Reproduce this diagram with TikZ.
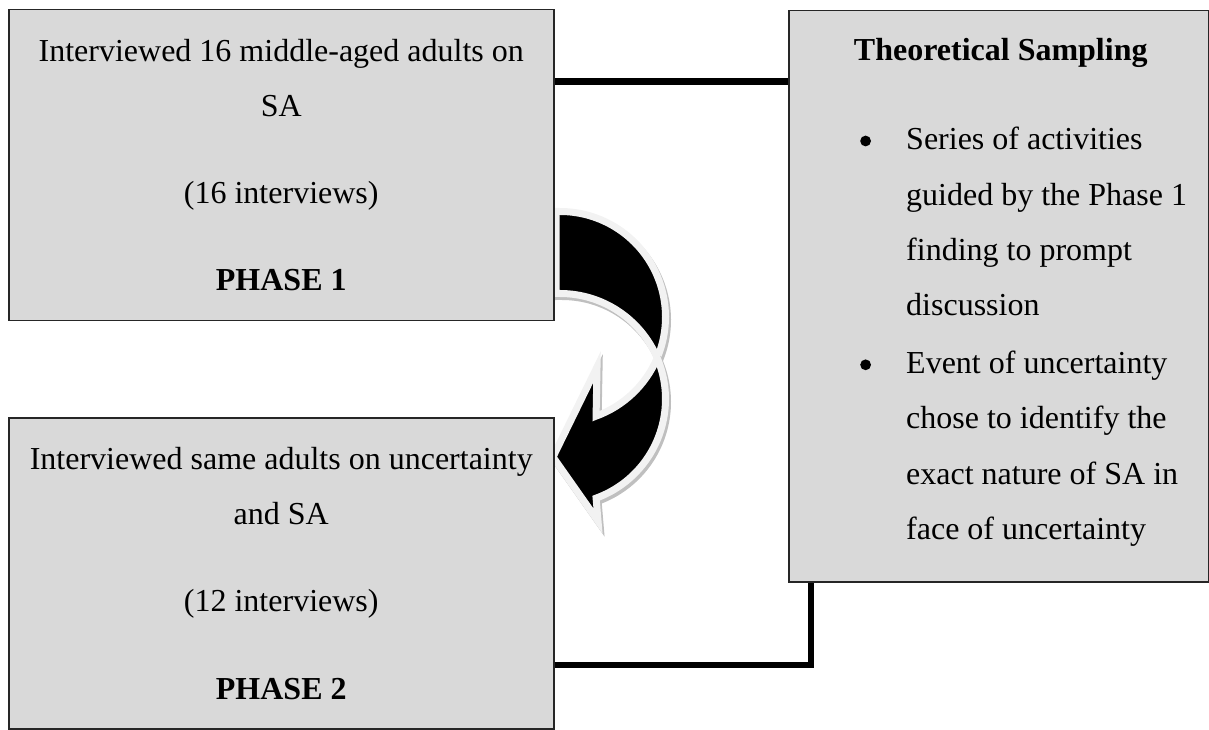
\documentclass[tikz,border=0pt]{standalone}
\usepackage{fontspec}
\setmainfont{Liberation Serif}
\usetikzlibrary{calc}
\definecolor{panelgray}{HTML}{D9D9D9}
\definecolor{arrowrim}{HTML}{F2F2F2}
\definecolor{arrowshade}{HTML}{BFBFBF}
% round list marker, a little larger than the text font's bullet
\newcommand{\listdot}{\tikz[baseline=0pt]\fill (5.4pt,9pt) circle[radius=5.4pt];}
\begin{document}
\begin{tikzpicture}[x=1pt,y=1pt,
  panel/.style={draw=black!85, line width=1.5pt, fill=panelgray, inner sep=0pt,
    align=center, font=\fontsize{32}{55.2}\selectfont},
  phasebox/.style={panel, minimum width=545pt, minimum height=311pt, anchor=north west},
  bodytext/.style={inner sep=0pt, font=\fontsize{32}{55.2}\selectfont},
  link/.style={draw=black, line join=miter, line cap=butt},
  band/.style={fill=black, draw=arrowrim, line width=7pt, line join=miter},
  bandshadow/.style={fill=arrowshade, draw=arrowshade, line width=7pt, line join=miter},
]
\useasboundingbox (0,0) rectangle (1209,729);

% curved arrow from phase 1 down to phase 2: rear limb, then front limb with head
\begin{scope}[shift={(2,-3)}]
  \path[bandshadow] (556,517.5) -- (560,517.5)
    arc[start angle=90,end angle=-22.87,radius=105.5]
    arc[start angle=22.87,end angle=90,radius=105.5] -- (556,435.5) -- cycle;
\end{scope}
\path[band] (556,517.5) -- (560,517.5)
  arc[start angle=90,end angle=-22.87,radius=105.5]
  arc[start angle=22.87,end angle=90,radius=105.5] -- (556,435.5) -- cycle;
\begin{scope}[shift={(2,-3)}]
  \path[bandshadow] (657.2,371)
    arc[start angle=22.87,end angle=-70,radius=105.5]
    -- (598,208) -- (553,272) -- (597,362) -- (596.08,312.86)
    arc[start angle=-70,end angle=-22.87,radius=105.5] -- cycle;
\end{scope}
\path[band] (657.2,371)
  arc[start angle=22.87,end angle=-70,radius=105.5]
  -- (598,208) -- (553,272) -- (597,362) -- (596.08,312.86)
  arc[start angle=-70,end angle=-22.87,radius=105.5] -- cycle;

% the two interview phases
\node[phasebox] (p1) at (8,720)
  {Interviewed 16 middle-aged adults on\\SA\\[32pt](16 interviews)\\[32pt]\textbf{PHASE 1}};
\node[phasebox] (p2) at (8,312)
  {Interviewed same adults on uncertainty\\and SA\\[32pt](12 interviews)\\[32pt]\textbf{PHASE 2}};

% theoretical sampling panel
\node[panel, minimum width=420pt, minimum height=571pt, anchor=north west] (ts) at (788,719) {};
\node[bodytext, anchor=base] (tstitle) at ($(ts.north)+(2,-51)$) {\textbf{Theoretical Sampling}};
\node[bodytext, anchor=base west] (tslist) at ($(ts.north west)+(72,-140)$)
  {\begin{tabular}[t]{@{}p{46pt}@{}l@{}}
    \listdot & Series of activities\\
             & guided by the Phase 1\\
             & finding to prompt\\
             & discussion\\[3pt]
    \listdot & Event of uncertainty\\
             & chose to identify the\\
             & exact nature of SA in\\
             & face of uncertainty
  \end{tabular}};

% links between the phases and the sampling panel
\coordinate (topjoin) at ($(p1.north east)+(0,-72.5)$);
\draw[link, line width=7.5pt] (topjoin) -- (topjoin -| ts.west);
\coordinate (lowjoin) at ($(p2.north east)+(0,-248)$);
\coordinate (elbow) at (811,64);
\draw[link, line width=5.5pt] (lowjoin) -- (elbow) -- (elbow |- ts.south);
\end{tikzpicture}
\end{document}
